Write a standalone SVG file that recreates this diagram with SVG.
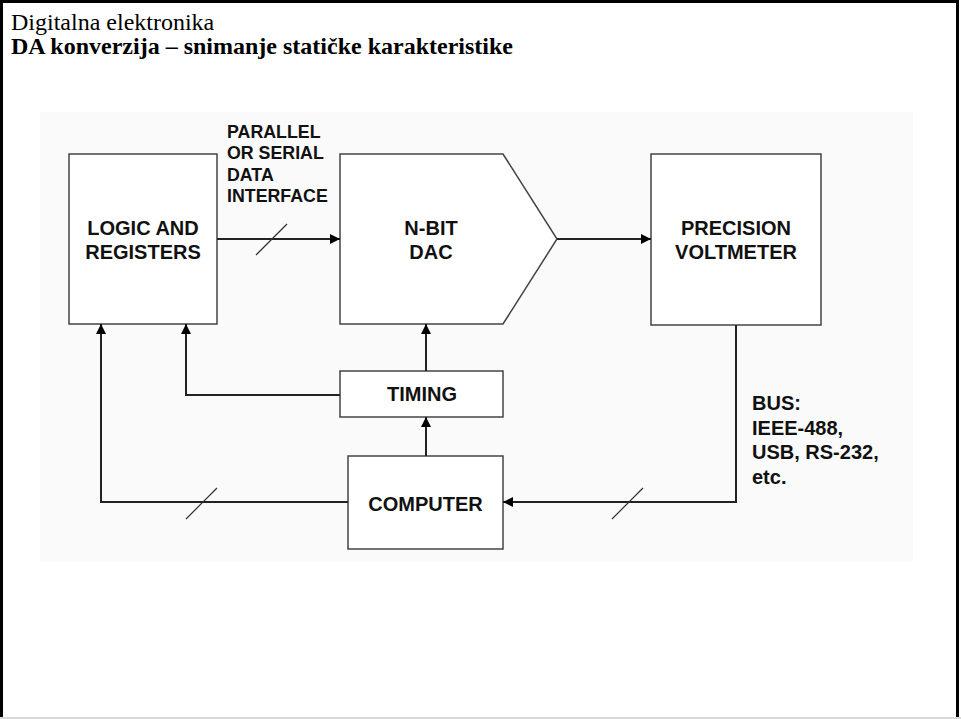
<svg xmlns="http://www.w3.org/2000/svg" width="961" height="719" viewBox="0 0 961 719">
<defs>
<style>
.title{font-family:"Liberation Serif","Times New Roman",serif;fill:#000;font-size:24px}
.lbl{font-family:"Liberation Sans",Arial,sans-serif;font-weight:bold;fill:#111;font-size:20px}
.small{font-size:17.8px}
.box{fill:#fff;stroke:#444;stroke-width:1.5}
.wire{fill:none;stroke:#222;stroke-width:2}
.slash{stroke:#333;stroke-width:1.2}
</style>
<marker id="ah" viewBox="0 0 10 10" refX="10" refY="5" markerWidth="10" markerHeight="10" markerUnits="userSpaceOnUse" orient="auto">
<path d="M0,0 L10,5 L0,10 z" fill="#000"/>
</marker>
</defs>
<rect x="0" y="0" width="961" height="719" fill="#fff"/>
<rect x="40" y="112" width="873" height="450" fill="#fafafa"/>
<g id="frame">
<line x1="0" y1="1.5" x2="959" y2="1.5" stroke="#000" stroke-width="3"/>
<line x1="1.5" y1="0" x2="1.5" y2="717" stroke="#000" stroke-width="3"/>
<line x1="957.5" y1="0" x2="957.5" y2="717" stroke="#000" stroke-width="3"/>
<line x1="0" y1="718" x2="961" y2="718" stroke="#ccc" stroke-width="1.5"/>
</g>
<g id="title">
<text class="title" x="11" y="29.5">Digitalna elektronika</text>
<text class="title" x="11" y="54" font-weight="bold">DA konverzija – snimanje statičke karakteristike</text>
</g>
<g id="logic">
<rect class="box" x="69" y="154" width="148" height="170"/>
<text class="lbl" x="143" y="234.5" text-anchor="middle">LOGIC AND</text>
<text class="lbl" x="143" y="259" text-anchor="middle">REGISTERS</text>
</g>
<g id="dac">
<path class="box" d="M340,154 L503,154 L557,239 L503,324 L340,324 Z"/>
<text class="lbl" x="431" y="234.5" text-anchor="middle">N-BIT</text>
<text class="lbl" x="431" y="259" text-anchor="middle">DAC</text>
</g>
<g id="voltmeter">
<rect class="box" x="651" y="154" width="170" height="171"/>
<text class="lbl" x="736" y="234.5" text-anchor="middle">PRECISION</text>
<text class="lbl" x="736" y="259" text-anchor="middle">VOLTMETER</text>
</g>
<g id="timing">
<rect class="box" x="340" y="371" width="163" height="46"/>
<text class="lbl" x="422" y="401" text-anchor="middle">TIMING</text>
</g>
<g id="computer">
<rect class="box" x="348" y="456" width="155" height="93"/>
<text class="lbl" x="425.5" y="511" text-anchor="middle">COMPUTER</text>
</g>
<g id="connectors">
<line class="wire" x1="217" y1="239" x2="340" y2="239" marker-end="url(#ah)"/>
<line class="slash" x1="256" y1="255" x2="287" y2="224"/>
<line class="wire" x1="557" y1="239" x2="651" y2="239" marker-end="url(#ah)"/>
<line class="wire" x1="426" y1="371" x2="426" y2="324" marker-end="url(#ah)"/>
<line class="wire" x1="426" y1="456" x2="426" y2="417" marker-end="url(#ah)"/>
<polyline class="wire" points="340,395 186,395 186,324" marker-end="url(#ah)"/>
<polyline class="wire" points="348,502 101,502 101,324" marker-end="url(#ah)"/>
<line class="slash" x1="186" y1="519" x2="217" y2="488"/>
<polyline class="wire" points="736,325 736,502 503,502" marker-end="url(#ah)"/>
<line class="slash" x1="612" y1="519" x2="643" y2="488"/>
</g>
<g id="labels">
<text class="lbl small" x="227" y="137.5">PARALLEL</text>
<text class="lbl small" x="227" y="159.2">OR SERIAL</text>
<text class="lbl small" x="227" y="180.8">DATA</text>
<text class="lbl small" x="227" y="202.4">INTERFACE</text>
<text class="lbl" x="752" y="410">BUS:</text>
<text class="lbl" x="752" y="434.5">IEEE-488,</text>
<text class="lbl" x="752" y="459">USB, RS-232,</text>
<text class="lbl" x="752" y="483.5">etc.</text>
</g>
</svg>
